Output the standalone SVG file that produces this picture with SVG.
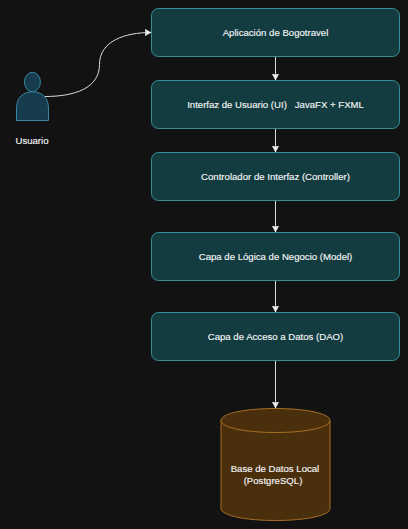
<svg xmlns="http://www.w3.org/2000/svg" width="408" height="529" viewBox="0 0 408 529">
<style>
.box{fill:#123c40;stroke:#3a8f99;stroke-width:1}
.t{font-family:"Liberation Sans",Arial,sans-serif;font-size:9.6px;fill:#f4f4f4;text-anchor:middle;stroke:#f4f4f4;stroke-width:.15}
.e{fill:none;stroke:#dcdcdc;stroke-width:1}
</style>
<defs>
<marker id="a" markerUnits="userSpaceOnUse" markerWidth="8" markerHeight="9" refX="6.500" refY="4" orient="auto"><path d="M0 .5L6.500 4L0 7.500L1.500 4Z" fill="#f0f0f0" stroke="#f0f0f0" stroke-width=".5"/></marker>
</defs>
<rect width="408" height="529" fill="#121212"/>
<g id="connectors">
<path class="e" marker-end="url(#a)" d="M45 96.500C75 96.500 99.500 88 99.500 64.500C99.500 41 125 32.500 151 32.500"/>
<path class="e" marker-end="url(#a)" d="M275.500 56.500V80"/>
<path class="e" marker-end="url(#a)" d="M275.500 128.500V152"/>
<path class="e" marker-end="url(#a)" d="M275.500 200.500V232"/>
<path class="e" marker-end="url(#a)" d="M275.500 280.500V312"/>
<path class="e" marker-end="url(#a)" d="M275.500 360.500V408"/>
</g>
<g id="usuario">
<ellipse cx="32.400" cy="82" rx="8" ry="9.700" fill="#163c4e" stroke="#3a86a3"/>
<path d="M16.500 120.500V108C16.500 98 23 91.700 32.500 91.700C42 91.700 48.500 98 48.500 108V120.500Z" fill="#163c4e" stroke="#3a86a3"/>
<text class="t" x="32" y="144">Usuario</text>
</g>
<g id="app"><rect class="box" x="151.500" y="8.500" width="248" height="48" rx="7"/><text class="t" x="275.500" y="36">Aplicación de Bogotravel</text></g>
<g id="ui"><rect class="box" x="151.500" y="80.500" width="248" height="48" rx="7"/><text class="t" x="275.500" y="108" xml:space="preserve">Interfaz de Usuario (UI)   JavaFX + FXML</text></g>
<g id="controller"><rect class="box" x="151.500" y="152.500" width="248" height="48" rx="7"/><text class="t" x="275.500" y="180">Controlador de Interfaz (Controller)</text></g>
<g id="model"><rect class="box" x="151.500" y="232.500" width="248" height="48" rx="7"/><text class="t" x="275.500" y="260">Capa de Lógica de Negocio (Model)</text></g>
<g id="dao"><rect class="box" x="151.500" y="312.500" width="248" height="48" rx="7"/><text class="t" x="275.500" y="340">Capa de Acceso a Datos (DAO)</text></g>
<g id="db">
<path d="M221 420.500C221 413.500 245 408.500 275.500 408.500C306 408.500 330 413.500 330 420.500V508.500C330 515.500 306 520.500 275.500 520.500C245 520.500 221 515.500 221 508.500Z" fill="#4a2f0c" stroke="#a86f25"/>
<path d="M221 420.500C221 427.500 245 432.500 275.500 432.500C306 432.500 330 427.500 330 420.500" fill="none" stroke="#a86f25"/>
<text class="t" x="275" y="472">Base de Datos Local</text>
<text class="t" x="273" y="484">(PostgreSQL)</text>
</g>
</svg>
